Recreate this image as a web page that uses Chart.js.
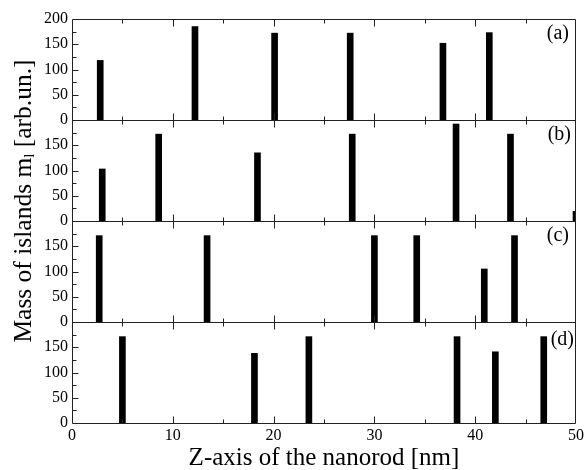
<!DOCTYPE html>
<html><head><meta charset="utf-8">
<script src="https://cdn.jsdelivr.net/npm/chart.js@4/dist/chart.umd.min.js"></script>
<style>html,body{margin:0;padding:0;background:#fff}#wrap{width:587px;height:470px}</style>
</head><body><div id="wrap"><canvas id="c" width="587" height="470"></canvas></div>
<script>
// ---- data ----
const panelLabels = ['(a)', '(b)', '(c)', '(d)'];
const posA  = [2.8, 12.2, 20.1, 27.6, 36.8, 41.4];
const massA = [118, 185, 172, 172, 152, 173];
const posB  = [3.0, 8.6, 18.4, 27.8, 38.1, 43.5, 50.0];
const massB = [103, 172, 135, 172, 192, 172, 19];
const posC  = [2.7, 13.4, 30.0, 34.2, 40.9, 43.9];
const massC = [171, 171, 171, 171, 105, 171];
const posD  = [5.0, 18.1, 23.5, 38.2, 42.0, 46.8];
const massD = [171, 138, 171, 171, 141, 171];
const xTitle = 'Z-axis of the nanorod [nm]';
const yTitleMain = 'Mass of islands m';
const yTitleSub = 'l';
const yTitleEnd = ' [arb.un.]';

const FONT = "'Liberation Serif', 'DejaVu Serif', serif";
const pts = (xs, ys) => xs.map((x, i) => ({x: x, y: ys[i]}));

function ds(xs, ys, axis) {
  return {data: pts(xs, ys), yAxisID: axis, backgroundColor: '#000', borderWidth: 0,
          barThickness: 6, grouped: false};
}

const labelShift = [7, 5, 7, 2];
const framePlugin = {
  id: 'frame',
  afterDatasetsDraw(chart) {
    const {ctx, chartArea: a, scales} = chart;
    const x = scales.x, y = scales.y;
    ctx.save();
    ctx.strokeStyle = '#222';
    ctx.lineWidth = 1;
    const L = Math.round(a.left) + 0.5, R = Math.round(a.right) - 0.5;
    const bounds = [0, 200, 400, 600, 800];
    ctx.beginPath();
    bounds.forEach(v => {
      const py = Math.round(y.getPixelForValue(v)) + 0.5;
      ctx.moveTo(L, py); ctx.lineTo(R, py);
      for (let t = 5; t < 50; t += 5) {
        const len = t % 10 === 0 ? 7 : 4;
        const px = Math.round(x.getPixelForValue(t)) + 0.5;
        if (v < 800) { ctx.moveTo(px, py); ctx.lineTo(px, py - len); }
        if (v > 0) { ctx.moveTo(px, py); ctx.lineTo(px, py + len); }
      }
    });
    const top = Math.round(y.getPixelForValue(800)) + 0.5, bot = Math.round(y.getPixelForValue(0)) + 0.5;
    ctx.moveTo(L, top); ctx.lineTo(L, bot);
    ctx.moveTo(R, top); ctx.lineTo(R, bot);
    for (let v = 25; v < 800; v += 25) {
      if (v % 200 === 0) continue;
      const len = v % 50 === 0 ? 6 : 4;
      const py = Math.round(y.getPixelForValue(v)) + 0.5;
      ctx.moveTo(L, py); ctx.lineTo(L + len, py);
    }
    ctx.stroke();
    // panel labels
    ctx.fillStyle = '#000';
    ctx.font = '20px ' + FONT;
    ctx.textAlign = 'right';
    ctx.textBaseline = 'top';
    panelLabels.forEach((lab, i) => {
      const py = y.getPixelForValue(800 - 200 * i);
      ctx.fillText(lab, x.getPixelForValue(50) - labelShift[i], py + 5 + (i === 3 ? 3 : 0));
    });
    // y title with subscript
    ctx.translate(24, 201);
    ctx.rotate(-Math.PI / 2);
    ctx.textAlign = 'left';
    ctx.textBaseline = 'middle';
    const big = '25.5px ' + FONT, small = '15px ' + FONT;
    ctx.font = big;
    const w1 = ctx.measureText(yTitleMain).width, w3 = ctx.measureText(yTitleEnd).width;
    ctx.font = small;
    const w2 = ctx.measureText(yTitleSub).width;
    let sx = -(w1 + w2 + w3) / 2;
    ctx.font = big; ctx.fillText(yTitleMain, sx, 0); sx += w1;
    ctx.font = small; ctx.fillText(yTitleSub, sx, 6); sx += w2;
    ctx.font = big; ctx.fillText(yTitleEnd, sx, 0);
    ctx.restore();
  }
};

new Chart(document.getElementById('c'), {
  type: 'bar',
  data: {datasets: [ds(posA, massA, 'ya'), ds(posB, massB, 'yb'), ds(posC, massC, 'yc'), ds(posD, massD, 'yd')]},
  options: {
    responsive: false, animation: false, devicePixelRatio: 1,
    layout: {padding: {left: 0, right: 10, top: 19, bottom: 0}},
    plugins: {legend: {display: false}, tooltip: {enabled: false}},
    scales: {
      x: {type: 'linear', position: 'bottom', min: 0, max: 50, offset: false,
          grid: {display: false, offset: false, drawTicks: false, tickLength: 0}, border: {display: false},
          ticks: {stepSize: 10, color: '#000', font: {family: FONT, size: 16}, padding: 3, maxRotation: 0},
          title: {display: true, text: xTitle, color: '#000', font: {family: FONT, size: 25, lineHeight: 0.9}, padding: 0},
          afterFit(s) { s.height = 47; }},
      y: {position: 'left', min: 0, max: 800,
          grid: {display: false, drawTicks: false, tickLength: 0}, border: {display: false},
          ticks: {stepSize: 50, color: '#000', font: {family: FONT, size: 16}, padding: 4,
                  callback: v => v === 800 ? '200' : String(v % 200)},
          afterFit(s) { s.width = 72; }},
      ya: {display: false, min: -600, max: 200},
      yb: {display: false, min: -400, max: 400},
      yc: {display: false, min: -200, max: 600},
      yd: {display: false, min: 0, max: 800}
    }
  },
  plugins: [framePlugin]
});
</script></body></html>
